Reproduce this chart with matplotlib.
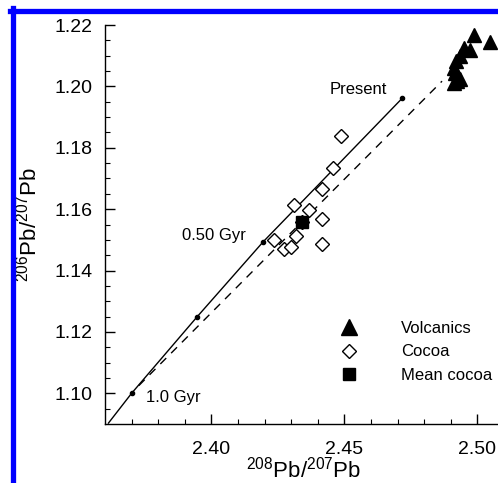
import numpy as np
import matplotlib.pyplot as plt
from matplotlib.lines import Line2D

plt.rcParams['font.family'] = ['Liberation Sans', 'DejaVu Sans']
plt.rcParams['mathtext.fontset'] = 'custom'
plt.rcParams['mathtext.rm'] = 'Liberation Sans'
plt.rcParams['mathtext.it'] = 'Liberation Sans'

# Datos leidos del grafico
# curva de crecimiento (linea continua) y sus marcas de edad
curva_x = [2.3613, 2.3700, 2.3946, 2.4194, 2.4717]
curva_y = [1.0903, 1.1000, 1.1249, 1.1493, 1.1961]
edad_x = [2.3700, 2.3946, 2.4194, 2.4717]
edad_y = [1.1000, 1.1249, 1.1493, 1.1961]

# linea de mezcla (discontinua)
mezcla_x = [2.3727, 2.4867]
mezcla_y = [1.1025, 1.2017]

volc_x = [2.4989, 2.5049, 2.4949, 2.4974, 2.4936, 2.4921, 2.4911, 2.4917, 2.4924, 2.4911, 2.4936]
volc_y = [1.2169, 1.2145, 1.2125, 1.2117, 1.2098, 1.2082, 1.2060, 1.2044, 1.2017, 1.2012, 1.2023]

cocoa_x = [2.4488, 2.4457, 2.4416, 2.4311, 2.4367, 2.4417, 2.4340, 2.4317, 2.4236, 2.4273, 2.4298, 2.4417]
cocoa_y = [1.1837, 1.1733, 1.1666, 1.1615, 1.1597, 1.1568, 1.1557, 1.1514, 1.1498, 1.1471, 1.1478, 1.1487]

mean_x = [2.4340]
mean_y = [1.1557]

fig = plt.figure(figsize=(4.98, 4.83), dpi=100)
ax = fig.add_axes([105/498, 59/483, 399/498, 399/483])

ax.plot(curva_x, curva_y, color='black', linewidth=1.0, zorder=2)
ax.plot(edad_x, edad_y, 'o', color='black', markersize=3, zorder=3)
ax.plot(mezcla_x, mezcla_y, color='black', linewidth=1.0, dashes=(6, 5), zorder=2)

ax.plot(volc_x, volc_y, '^', color='black', markersize=9.5, linestyle='none',
        label='Volcanics', zorder=4)
ax.plot(cocoa_x, cocoa_y, 'D', markerfacecolor='white', markeredgecolor='black',
        markeredgewidth=1.0, markersize=7, linestyle='none', label='Cocoa', zorder=4)
ax.plot(mean_x, mean_y, 's', color='black', markersize=8.5, linestyle='none',
        label='Mean cocoa', zorder=5)

ax.text(2.4660, 1.1990, 'Present', fontsize=12, ha='right', va='center')
ax.text(2.4128, 1.1515, '0.50 Gyr', fontsize=12, ha='right', va='center')
ax.text(2.3755, 1.0985, '1.0 Gyr', fontsize=12, ha='left', va='center')

ax.set_xlim(2.36, 2.51)
ax.set_ylim(1.09, 1.22)
ax.set_xticks([2.40, 2.45, 2.50])
ax.set_xticklabels(['2.40', '2.45', '2.50'])
ax.set_xticks(np.arange(2.37, 2.515, 0.01), minor=True)
ax.set_yticks([1.10, 1.12, 1.14, 1.16, 1.18, 1.20, 1.22])
ax.set_yticklabels(['1.10', '1.12', '1.14', '1.16', '1.18', '1.20', '1.22'])
ax.set_yticks(np.arange(1.095, 1.2201, 0.005), minor=True)

ax.tick_params(which='major', direction='in', length=7.5, width=1.0, labelsize=14)
ax.tick_params(which='minor', direction='in', length=3.5, width=0.8)
ax.tick_params(axis='x', which='major', pad=12)
ax.tick_params(axis='y', which='major', pad=9)
for s in ['top', 'right']:
    ax.spines[s].set_visible(False)
for s in ['left', 'bottom']:
    ax.spines[s].set_linewidth(1.0)

ax.set_xlabel(r'$^{208}$Pb/$^{207}$Pb', fontsize=16)
ax.set_ylabel(r'$^{206}$Pb/$^{207}$Pb', fontsize=16)
ax.xaxis.set_label_coords(0.499, -0.082)
ax.yaxis.set_label_coords(-0.158, 0.5)

leg = ax.legend(loc='upper left', bbox_to_anchor=(0.571, 0.258), frameon=False,
                fontsize=12, handlelength=2.0, handletextpad=2.1, labelspacing=0.5,
                borderpad=0, borderaxespad=0)
leg.legend_handles[0].set_markersize(12)

# marco azul
fig.add_artist(Line2D([12.5/498, 12.5/498], [0, 1 - 8/483], color='#0000ff',
                      linewidth=3.8, transform=fig.transFigure))
fig.add_artist(Line2D([10/498, 1], [1 - 10.5/483, 1 - 10.5/483], color='#0000ff',
                      linewidth=3.8, transform=fig.transFigure))

fig.savefig('out.png', dpi=100)
